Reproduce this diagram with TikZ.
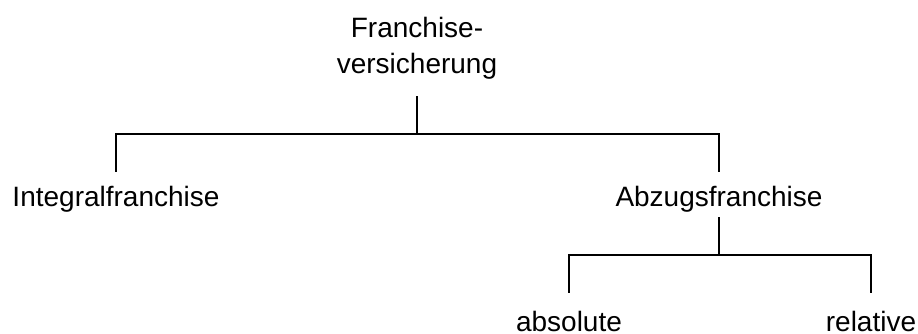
\documentclass[tikz,border=0pt]{standalone}
\usepackage{fontspec}
\setmainfont{Liberation Sans}
\usetikzlibrary{calc,positioning}

\begin{document}
\begin{tikzpicture}[x=1pt,y=-1pt]
	\tikzstyle{term} = [font=\fontsize{28}{36}\selectfont, inner sep=0pt, text height=21pt, text depth=7pt, align=center]
	\tikzstyle{branch} = [line width=2pt]
	\useasboundingbox (0,0) rectangle (918,333);
	
	\node (versicherung) [term, anchor=south] at (417,81) {Franchise-\\versicherung};
	\node (integral) [term, anchor=base] at (116,206) {Integralfranchise};
	\node (abzug) [term, anchor=base] at (719,206) {Abzugsfranchise};
	\node (absolut) [term, text depth=0pt, anchor=base] at (569,331) {absolute};
	\node (relativ) [term, text depth=0pt, anchor=base] at (871,331) {relative};
	\coordinate (topjoin) at ($(versicherung.south)+(0,53)$);
	\coordinate (abzugjoin) at ($(abzug.south)+(0,42)$);
	\draw [branch, shorten <=15pt] (versicherung.south) -- (topjoin);
	\draw [branch, shorten >=13pt] (topjoin) -| (integral.north);
	\draw [branch, shorten >=13pt] (topjoin) -| (abzug.north);
	\draw [branch, shorten <=4pt] (abzug.south) -- (abzugjoin);
	\draw [branch, shorten >=17pt] (abzugjoin) -| (absolut.north);
	\draw [branch, shorten >=17pt] (abzugjoin) -| (relativ.north);
\end{tikzpicture}
\end{document}
